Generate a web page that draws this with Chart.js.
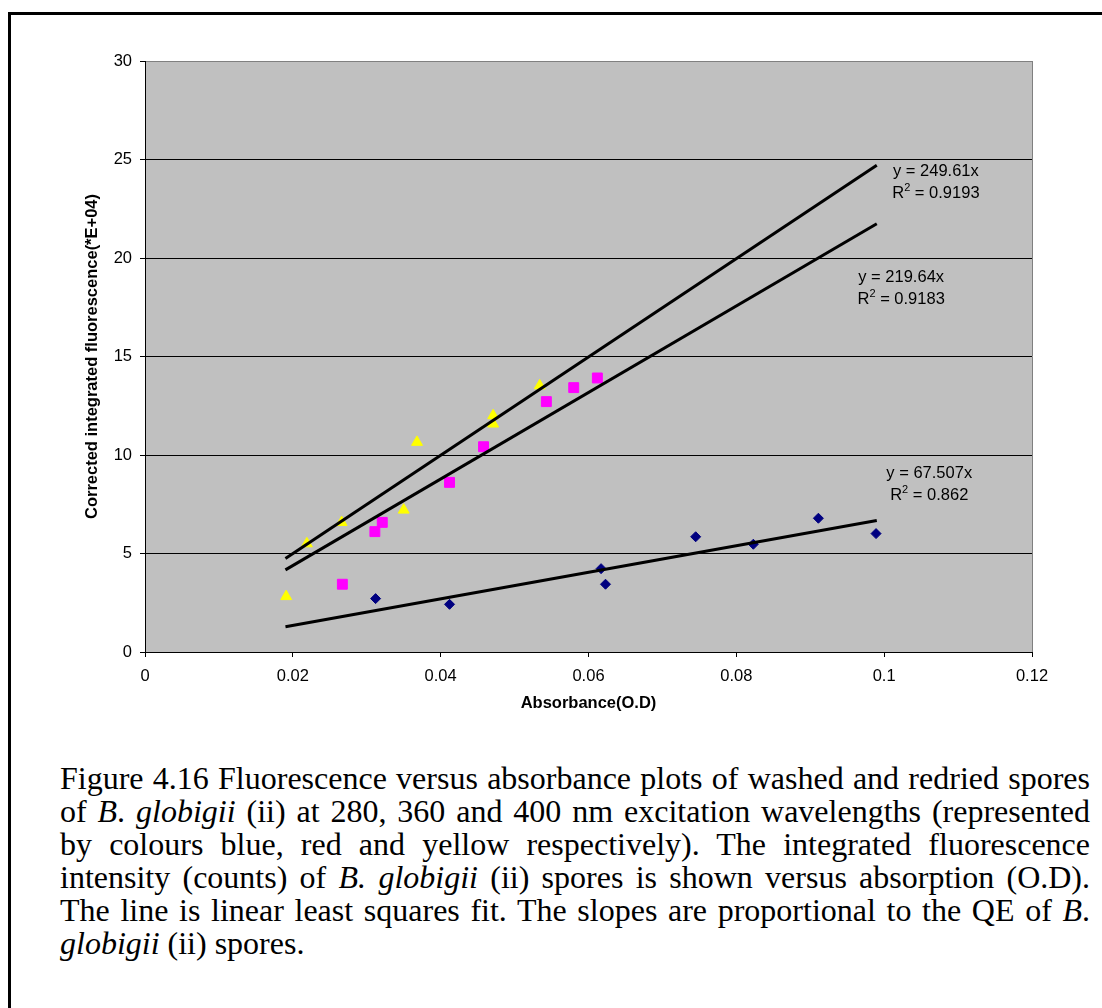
<!DOCTYPE html>
<html><head><meta charset="utf-8">
<script src="https://cdn.jsdelivr.net/npm/chart.js@4.4.1/dist/chart.umd.min.js"></script>
<style>
html,body{margin:0;padding:0;background:#fff;width:1102px;height:1008px;overflow:hidden;}
#frame{position:absolute;left:8px;top:12px;width:1200px;height:1100px;border:3px solid #000;box-sizing:border-box;}
#chart{position:absolute;left:0;top:0;}
#caption{position:absolute;left:60px;top:762px;width:1030px;font-family:'Liberation Serif','Times New Roman',serif;font-size:32px;line-height:33px;color:#000;}
.ln{text-align:justify;text-align-last:justify;}
.last{text-align:left;text-align-last:left;}
</style></head>
<body>
<div id="frame"></div>
<canvas id="chart" width="1102" height="730"></canvas>
<div id="caption">
<div class="ln">Figure 4.16 Fluorescence versus absorbance plots of washed and redried spores</div>
<div class="ln">of <i>B</i>. <i>globigii</i> (ii) at 280, 360 and 400 nm excitation wavelengths (represented</div>
<div class="ln">by colours blue, red and yellow respectively). The integrated fluorescence</div>
<div class="ln">intensity (counts) of <i>B. globigii</i> (ii) spores is shown versus absorption (O.D).</div>
<div class="ln">The line is linear least squares fit. The slopes are proportional to the QE of <i>B</i>.</div>
<div class="ln last"><i>globigii</i> (ii) spores.</div>
</div>
<script>
// ---- data ----
const xBlue    = [0.0312, 0.0412, 0.0617, 0.0623, 0.0745, 0.0823, 0.0911, 0.0989];
const yBlue    = [2.71, 2.42, 4.23, 3.44, 5.85, 5.47, 6.79, 6.01];
const xMagenta = [0.0267, 0.0311, 0.0321, 0.0412, 0.0458, 0.0543, 0.0580, 0.0612];
const yMagenta = [3.44, 6.11, 6.58, 8.61, 10.42, 12.71, 13.42, 13.91];
const xYellow  = [0.0191, 0.0219, 0.0266, 0.0350, 0.0368, 0.0471, 0.0471, 0.0534];
const yYellow  = [2.82, 5.50, 6.58, 7.21, 10.65, 12.00, 11.58, 13.52];

// trendline end points (linear fits through origin, as read)
const trendX        = [0.019, 0.099];
const trendYellowY  = [4.74, 24.71];
const trendMagentaY = [4.17, 21.74];
const trendBlueY    = [1.28, 6.68];

const trendEquations = ['y = 249.61x', 'y = 219.64x', 'y = 67.507x'];
const trendR2        = ['0.9193', '0.9183', '0.862'];
const labelX         = [0.1070, 0.1023, 0.1061];
const labelY         = [24.38, 19.00, 9.04];

const xTickLabels = ['0', '0.02', '0.04', '0.06', '0.08', '0.1', '0.12'];
const yTickLabels = ['0', '5', '10', '15', '20', '25', '30'];

const xTitle = 'Absorbance(O.D)';
const yTitle = 'Corrected integrated fluorescence(*E+04)';

const pts = (xs, ys) => xs.map((x, i) => ({x, y: ys[i]}));

const plotBg = {
  id: 'plotBg',
  beforeDraw(chart) {
    const {ctx, chartArea: a} = chart;
    ctx.save();
    ctx.fillStyle = '#C0C0C0';
    ctx.fillRect(a.left, a.top, a.right - a.left, a.bottom - a.top);
    ctx.restore();
  }
};

const eqLabels = {
  id: 'eqLabels',
  afterDraw(chart) {
    const {ctx} = chart;
    const xs = chart.scales.x, ys = chart.scales.y;
    ctx.save();
    ctx.fillStyle = '#000';
    ctx.textBaseline = 'middle';
    const font = "16.5px 'Liberation Sans', Arial, sans-serif";
    const supFont = "11px 'Liberation Sans', Arial, sans-serif";
    for (let i = 0; i < trendEquations.length; i++) {
      const cx = xs.getPixelForValue(labelX[i]);
      const cy = ys.getPixelForValue(labelY[i]);
      ctx.font = font;
      ctx.textAlign = 'center';
      ctx.fillText(trendEquations[i], cx, cy);
      const rest = ' = ' + trendR2[i];
      ctx.font = font;
      const wR = ctx.measureText('R').width;
      const wRest = ctx.measureText(rest).width;
      ctx.font = supFont;
      const wSup = ctx.measureText('2').width;
      const total = wR + wSup + wRest;
      let x0 = cx - total / 2;
      const y2 = cy + 22;
      ctx.textAlign = 'left';
      ctx.font = font;
      ctx.fillText('R', x0, y2);
      ctx.font = supFont;
      ctx.fillText('2', x0 + wR, y2 - 6);
      ctx.font = font;
      ctx.fillText(rest, x0 + wR + wSup, y2);
    }
    ctx.restore();
  }
};

new Chart(document.getElementById('chart'), {
  type: 'scatter',
  data: {
    datasets: [
      {label: 'trend yellow', type: 'line', data: pts(trendX, trendYellowY), borderColor: '#000', borderWidth: 3, pointRadius: 0, fill: false, order: 0, borderCapStyle: 'butt'},
      {label: 'trend magenta', type: 'line', data: pts(trendX, trendMagentaY), borderColor: '#000', borderWidth: 3, pointRadius: 0, fill: false, order: 0, borderCapStyle: 'butt'},
      {label: 'trend blue', type: 'line', data: pts(trendX, trendBlueY), borderColor: '#000', borderWidth: 3, pointRadius: 0, fill: false, order: 0, borderCapStyle: 'butt'},
      {label: '280 nm', data: pts(xBlue, yBlue), pointStyle: 'rectRot', pointRadius: 5, backgroundColor: '#000080', borderColor: '#000080', borderWidth: 1, order: 1},
      {label: '360 nm', data: pts(xMagenta, yMagenta), pointStyle: 'rect', pointRadius: 7, backgroundColor: '#FF00FF', borderColor: '#FF00FF', borderWidth: 1, order: 1},
      {label: '400 nm', data: pts(xYellow, yYellow), pointStyle: 'triangle', pointRadius: 6.3, backgroundColor: '#FFFF00', borderColor: '#FFFF00', borderWidth: 1, order: 1}
    ]
  },
  options: {
    responsive: false,
    animation: false,
    devicePixelRatio: 1,
    layout: {padding: {left: 0, top: 61, right: 70, bottom: 0}},
    plugins: {legend: {display: false}, tooltip: {enabled: false}},
    scales: {
      x: {
        type: 'linear', min: 0, max: 0.12,
        ticks: {stepSize: 0.02, color: '#000', padding: 10, maxRotation: 0,
          font: {family: "'Liberation Sans', Arial, sans-serif", size: 16.5},
          callback: (v, i) => xTickLabels[i]},
        grid: {drawOnChartArea: true, tickLength: 5, tickColor: '#000',
          color: (c) => (c.index === xTickLabels.length - 1 ? '#808080' : 'rgba(0,0,0,0)')},
        border: {display: true, color: '#000', width: 1},
        title: {display: true, text: xTitle, color: '#000', padding: {top: 0, bottom: 17},
          font: {family: "'Liberation Sans', Arial, sans-serif", size: 16.5, weight: 'bold'}},
        afterFit: (s) => { s.height = 78; }
      },
      y: {
        type: 'linear', min: 0, max: 30,
        ticks: {stepSize: 5, color: '#000', padding: 8,
          font: {family: "'Liberation Sans', Arial, sans-serif", size: 16.5},
          callback: (v, i) => yTickLabels[i]},
        grid: {tickLength: 5, tickColor: '#000', lineWidth: 1,
          color: (c) => (c.index === yTickLabels.length - 1 ? '#808080' : '#000')},
        border: {display: true, color: '#000', width: 1},
        title: {display: true, text: yTitle, color: '#000', padding: {top: 83, bottom: 0},
          font: {family: "'Liberation Sans', Arial, sans-serif", size: 16.5, weight: 'bold'}},
        afterFit: (s) => { s.width = 145; }
      }
    }
  },
  plugins: [plotBg, eqLabels]
});
</script>
</body></html>
